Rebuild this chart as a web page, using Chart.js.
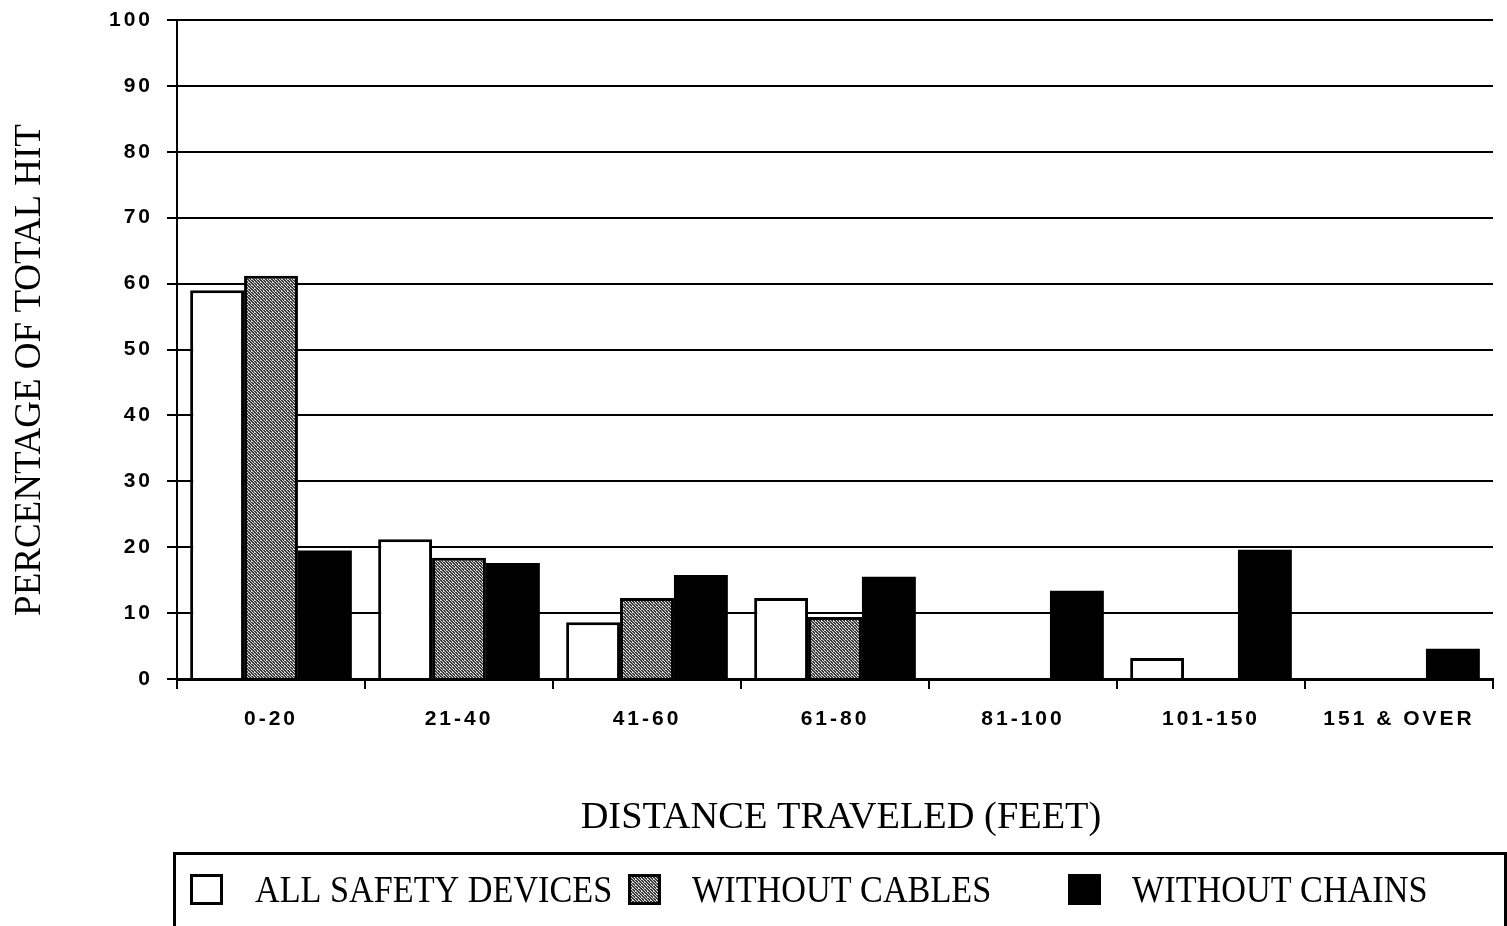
<!DOCTYPE html>
<html><head><meta charset="utf-8">
<script src="https://cdn.jsdelivr.net/npm/chart.js@4.4.0/dist/chart.umd.min.js"></script>
<style>html,body{margin:0;padding:0;background:#fff;overflow:hidden}#wrap{width:1507px;height:926px;position:relative}canvas{display:block}</style>
</head><body><div id="wrap"><canvas id="c" width="1507" height="926"></canvas></div>
<script>
// ---- data ----
const categories = ['0-20', '21-40', '41-60', '61-80', '81-100', '101-150', '151 & OVER'];
const allSafetyDevices = [59.0, 21.2, 8.6, 12.3, 0, 3.2, 0];
const withoutCables = [61.2, 18.4, 12.3, 9.4, 0, 0, 0];
const withoutChains = [19.5, 17.6, 15.8, 15.5, 13.4, 19.6, 4.6];
const seriesLabels = ['ALL SAFETY DEVICES', 'WITHOUT CABLES', 'WITHOUT CHAINS'];
const yMin = 0, yMax = 100, yStep = 10;
const xTitle = 'DISTANCE TRAVELED (FEET)';
const yTitle = 'PERCENTAGE OF TOTAL HIT';

// ---- styling ----
function stipple() {
  const c = document.createElement('canvas'); c.width = 6; c.height = 6;
  const g = c.getContext('2d');
  g.fillStyle = '#3a3a3a'; g.fillRect(0, 0, 6, 6);
  g.fillStyle = '#d8d8d8';
  [[0,0],[3,0],[1,1],[4,1],[2,2],[5,2],[0,3],[3,3],[1,4],[4,4],[2,5],[5,5],[2,0],[5,3]].forEach(([x,y]) => g.fillRect(x, y, 1, 1));
  return c.getContext('2d').createPattern(c, 'repeat');
}
const grayFill = stipple();
const serif = '"Liberation Serif", "DejaVu Serif", serif';
const sans = '"Liberation Sans", Arial, sans-serif';

const customText = {
  id: 'customText',
  beforeDraw(chart) { chart.ctx.letterSpacing = '3px'; },
  afterDraw(chart) {
    const ctx = chart.ctx;
    ctx.save();
    ctx.letterSpacing = '0px';
    ctx.fillStyle = '#000';
    // x title
    ctx.font = '38px ' + serif;
    ctx.textAlign = 'center'; ctx.textBaseline = 'middle';
    ctx.save();
    ctx.translate(841, 818); ctx.scale(1.01, 1);
    ctx.fillText(xTitle, 0, 0);
    ctx.restore();
    // y title
    ctx.save();
    ctx.translate(30, 370); ctx.rotate(-Math.PI / 2);
    ctx.font = '37px ' + serif;
    ctx.fillText(yTitle, 0, 0);
    ctx.restore();
    // legend box
    ctx.lineWidth = 3; ctx.strokeStyle = '#000';
    ctx.strokeRect(174.5, 853.5, 1331, 80);
    const items = [{sx: 190, tx: 255}, {sx: 628, tx: 692}, {sx: 1068, tx: 1132}];
    chart.data.datasets.forEach((ds, i) => {
      const it = items[i];
      ctx.fillStyle = ds.backgroundColor;
      ctx.fillRect(it.sx, 874, 33, 31);
      ctx.lineWidth = 3; ctx.strokeStyle = '#000';
      ctx.strokeRect(it.sx + 1.5, 875.5, 30, 28);
      ctx.save();
      ctx.fillStyle = '#000';
      ctx.font = '38px ' + serif;
      ctx.textAlign = 'left'; ctx.textBaseline = 'middle';
      ctx.translate(it.tx, 892);
      ctx.scale(0.9, 1);
      ctx.fillText(ds.label, 0, 0);
      ctx.restore();
    });
    ctx.restore();
  }
};

new Chart(document.getElementById('c'), {
  type: 'bar',
  data: {
    labels: categories,
    datasets: [
      {label: seriesLabels[0], data: allSafetyDevices, backgroundColor: '#ffffff', borderColor: '#000', borderWidth: 3},
      {label: seriesLabels[1], data: withoutCables, backgroundColor: grayFill, borderColor: '#000', borderWidth: 3},
      {label: seriesLabels[2], data: withoutChains, backgroundColor: '#000000', borderColor: '#000', borderWidth: 0}
    ]
  },
  options: {
    responsive: false,
    devicePixelRatio: 1,
    animation: false,
    layout: {padding: {top: 20, right: 14, bottom: 0, left: 0}},
    datasets: {bar: {categoryPercentage: 0.86, barPercentage: 1.0}},
    plugins: {legend: {display: false}, tooltip: {enabled: false}},
    scales: {
      x: {
        afterFit: s => { s.height = 247; s.paddingLeft = 0; s.paddingRight = 0; },
        grid: {drawOnChartArea: false, drawTicks: true, tickLength: 10, color: '#000', lineWidth: 2, offset: true},
        border: {color: '#000', width: 3},
        ticks: {color: '#000', font: {family: sans, size: 21, weight: 'bold'}, padding: 18, maxRotation: 0}
      },
      y: {
        min: yMin, max: yMax,
        afterFit: s => { s.width = 177; s.paddingTop = 0; s.paddingBottom = 0; },
        grid: {color: '#000', lineWidth: 2, tickLength: 10},
        border: {color: '#000', width: 2},
        ticks: {stepSize: yStep, color: '#000', font: {family: sans, size: 21, weight: 'bold'}, padding: 14}
      }
    }
  },
  plugins: [customText]
});
</script></body></html>
